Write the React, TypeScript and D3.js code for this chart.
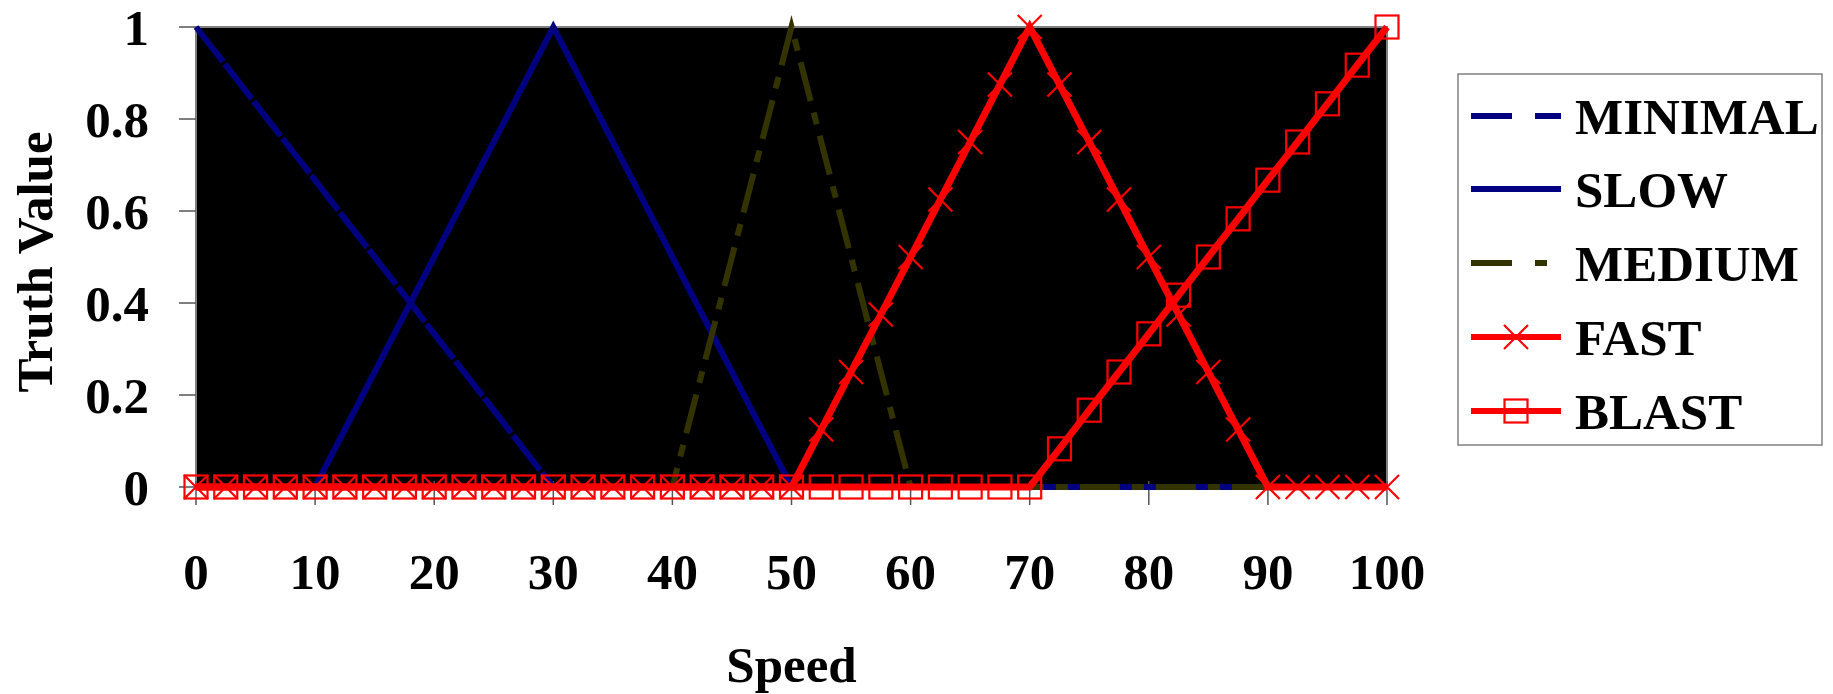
import React from "react";
import * as d3 from "d3";

const speeds = [0, 2.5, 5, 7.5, 10, 12.5, 15, 17.5, 20, 22.5, 25, 27.5, 30, 32.5, 35, 37.5, 40, 42.5, 45, 47.5, 50, 52.5, 55, 57.5, 60, 62.5, 65, 67.5, 70, 72.5, 75, 77.5, 80, 82.5, 85, 87.5, 90, 92.5, 95, 97.5, 100];

const minimal = [1, 0.917, 0.833, 0.75, 0.667, 0.583, 0.5, 0.417, 0.333, 0.25, 0.167, 0.083, 0, 0, 0, 0, 0, 0, 0, 0, 0, 0, 0, 0, 0, 0, 0, 0, 0, 0, 0, 0, 0, 0, 0, 0, 0, 0, 0, 0, 0];
const slow = [0, 0, 0, 0, 0, 0.125, 0.25, 0.375, 0.5, 0.625, 0.75, 0.875, 1, 0.875, 0.75, 0.625, 0.5, 0.375, 0.25, 0.125, 0, 0, 0, 0, 0, 0, 0, 0, 0, 0, 0, 0, 0, 0, 0, 0, 0, 0, 0, 0, 0];
const medium = [0, 0, 0, 0, 0, 0, 0, 0, 0, 0, 0, 0, 0, 0, 0, 0, 0, 0.25, 0.5, 0.75, 1, 0.75, 0.5, 0.25, 0, 0, 0, 0, 0, 0, 0, 0, 0, 0, 0, 0, 0, 0, 0, 0, 0];
const fast = [0, 0, 0, 0, 0, 0, 0, 0, 0, 0, 0, 0, 0, 0, 0, 0, 0, 0, 0, 0, 0, 0.125, 0.25, 0.375, 0.5, 0.625, 0.75, 0.875, 1, 0.875, 0.75, 0.625, 0.5, 0.375, 0.25, 0.125, 0, 0, 0, 0, 0];
const blast = [0, 0, 0, 0, 0, 0, 0, 0, 0, 0, 0, 0, 0, 0, 0, 0, 0, 0, 0, 0, 0, 0, 0, 0, 0, 0, 0, 0, 0, 0.083, 0.167, 0.25, 0.333, 0.417, 0.5, 0.583, 0.667, 0.75, 0.833, 0.917, 1];

const seriesNames = ["MINIMAL", "SLOW", "MEDIUM", "FAST", "BLAST"];
const xTicks = [0, 10, 20, 30, 40, 50, 60, 70, 80, 90, 100];
const yTicks = [0, 0.2, 0.4, 0.6, 0.8, 1];
const xTitle = "Speed";
const yTitle = "Truth Value";

const W = 1833;
const H = 694;
const FONT = "'Liberation Serif', 'Times New Roman', serif";
const FS = 51;

type Style = { color: string; width: number; dash?: string; legendDash?: string; marker?: "x" | "square" };

const styles: Style[] = [
  { color: "#000080", width: 6, dash: "44,3", legendDash: "41,23" },
  { color: "#000080", width: 6 },
  { color: "#333300", width: 6, dash: "40,12,12,12", legendDash: "41,23,12,23" },
  { color: "#ff0000", width: 7, marker: "x" },
  { color: "#ff0000", width: 7, marker: "square" },
];

function Marker({ kind, x, y, color }: { kind: "x" | "square"; x: number; y: number; color: string }) {
  if (kind === "x") {
    const s = 12;
    return (
      <path d={`M${x - s},${y - s}L${x + s},${y + s}M${x - s},${y + s}L${x + s},${y - s}`} stroke={color} strokeWidth={2.2} fill="none" />
    );
  }
  const s = 11.5;
  return <rect x={x - s} y={y - s} width={2 * s} height={2 * s} stroke={color} strokeWidth={2.2} fill="none" />;
}

export default function App() {
  const left = 196, right = 1387, top = 27, bottom = 487;
  const x = d3.scaleLinear().domain([0, 100]).range([left, right]);
  const y = d3.scaleLinear().domain([0, 1]).range([bottom, top]);
  const data = [minimal, slow, medium, fast, blast];
  const line = d3
    .line<number>()
    .x((_, i) => x(speeds[i]))
    .y((d) => y(d));

  const legX = 1458, legY = 74, legW = 364, legH = 371;
  const rowY = [116, 189, 263, 337, 411];

  return (
    <svg width={W} height={H} style={{ position: "absolute", left: 0, top: 0, background: "#fff" }} fontFamily={FONT} fontWeight="bold">
      <rect x={left} y={top} width={right - left} height={bottom - top} fill="#000" stroke="#808080" strokeWidth={2} />
      {yTicks.map((t) => (
        <g key={"y" + t}>
          <line x1={179} x2={left} y1={y(t)} y2={y(t)} stroke="#555" strokeWidth={1.5} />
          <text x={149} y={y(t)} dy="0.35em" textAnchor="end" fontSize={FS}>
            {String(t)}
          </text>
        </g>
      ))}
      {xTicks.map((t) => (
        <g key={"x" + t}>
          <line x1={x(t)} x2={x(t)} y1={bottom - 6} y2={505} stroke="#555" strokeWidth={1.5} />
          <text x={x(t)} y={589} textAnchor="middle" fontSize={FS}>
            {String(t)}
          </text>
        </g>
      ))}
      {data.map((vals, si) => {
        const st = styles[si];
        return (
          <g key={seriesNames[si]}>
            <path d={line(vals) || ""} fill="none" stroke={st.color} strokeWidth={st.width} strokeDasharray={st.dash} strokeLinejoin="miter" />
            {st.marker &&
              vals.map((v, i) => <Marker key={i} kind={st.marker!} x={x(speeds[i])} y={y(v)} color={st.color} />)}
          </g>
        );
      })}
      <text x={(left + right) / 2} y={682} textAnchor="middle" fontSize={FS}>
        {xTitle}
      </text>
      <text transform={`translate(52,${(top + bottom) / 2 + 5}) rotate(-90)`} textAnchor="middle" fontSize={FS}>
        {yTitle}
      </text>
      <rect x={legX} y={legY} width={legW} height={legH} fill="#fff" stroke="#808080" strokeWidth={1.5} />
      {seriesNames.map((name, i) => {
        const st = styles[i];
        const cy = rowY[i];
        return (
          <g key={"leg" + name}>
            <line x1={1471} x2={1561} y1={cy} y2={cy} stroke={st.color} strokeWidth={6} strokeDasharray={st.legendDash} />
            {st.marker && <Marker kind={st.marker} x={1516} y={cy} color={st.color} />}
            <text x={1575} y={cy + 18} fontSize={FS}>
              {name}
            </text>
          </g>
        );
      })}
    </svg>
  );
}
